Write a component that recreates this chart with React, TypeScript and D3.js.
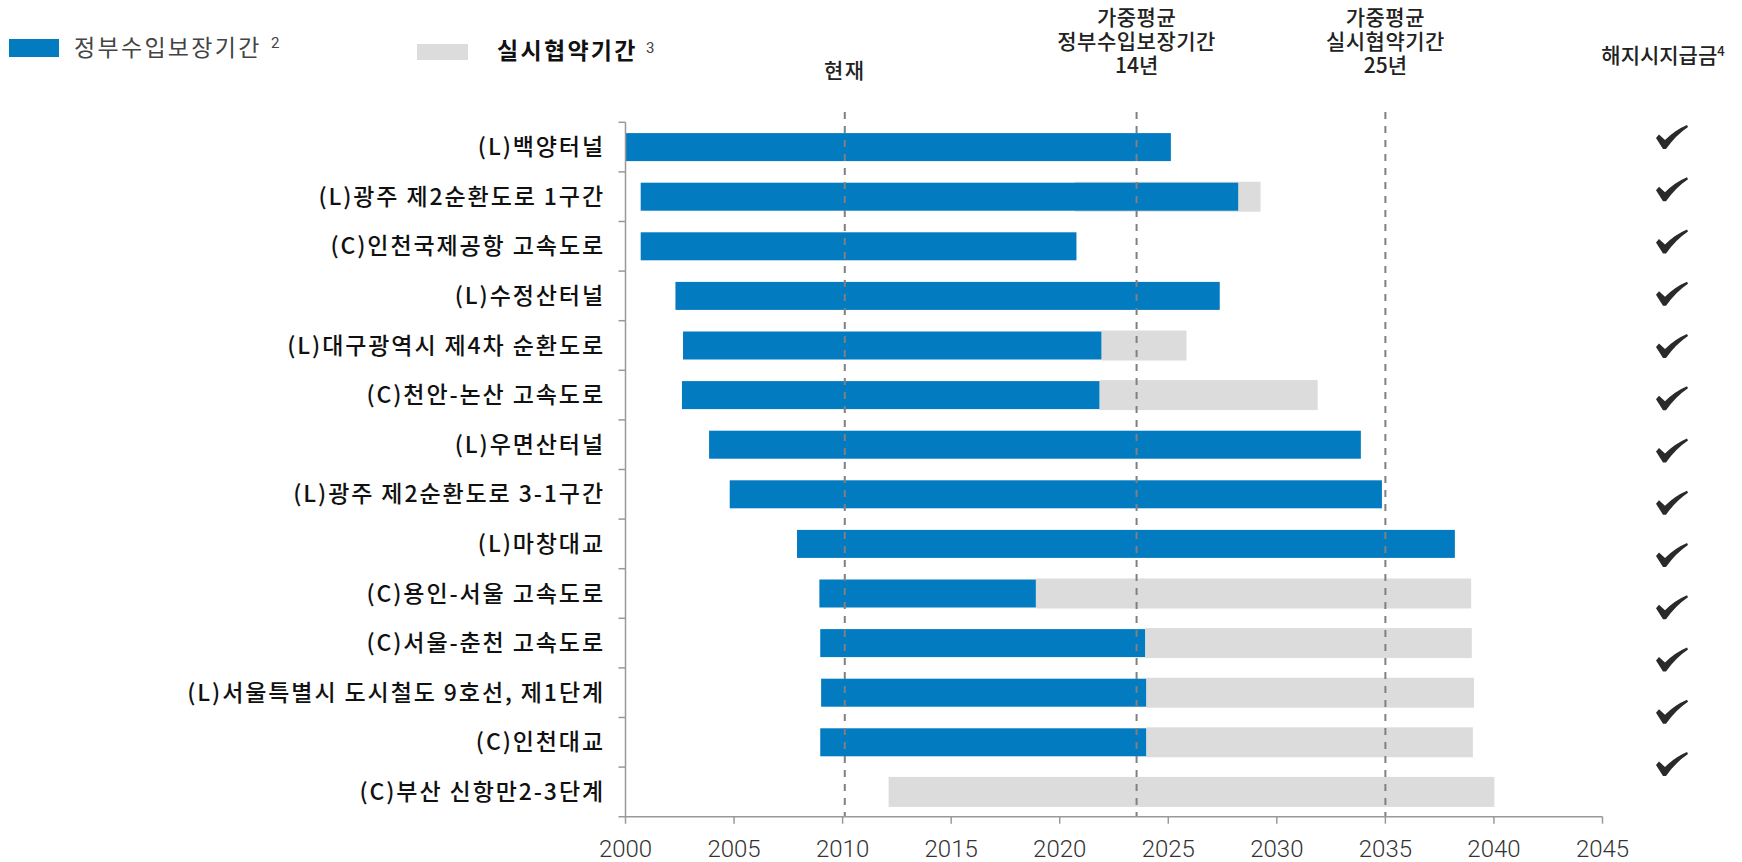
import React from "react";
import * as d3 from "d3";

const categories = [
  "(L)백양터널",
  "(L)광주 제2순환도로 1구간",
  "(C)인천국제공항 고속도로",
  "(L)수정산터널",
  "(L)대구광역시 제4차 순환도로",
  "(C)천안-논산 고속도로",
  "(L)우면산터널",
  "(L)광주 제2순환도로 3-1구간",
  "(L)마창대교",
  "(C)용인-서울 고속도로",
  "(C)서울-춘천 고속도로",
  "(L)서울특별시 도시철도 9호선, 제1단계",
  "(C)인천대교",
  "(C)부산 신항만2-3단계",
];

const govStart = [2000.0, 2000.7, 2000.7, 2002.3, 2002.65, 2002.6, 2003.85, 2004.8, 2007.9, 2008.93, 2008.97, 2009.01, 2008.97, null];
const govEnd = [2025.12, 2028.22, 2020.77, 2027.37, 2021.92, 2021.83, 2033.87, 2034.84, 2038.2, 2018.9, 2023.93, 2023.98, 2023.98, null];
const contractStart = [null, 2020.68, null, null, 2021.92, 2021.83, null, null, null, 2018.9, 2023.93, 2023.98, 2023.98, 2012.12];
const contractEnd = [null, 2029.25, null, null, 2025.84, 2031.88, null, null, null, 2038.95, 2038.98, 2039.08, 2039.03, 2040.02];

const xTicks = [2000, 2005, 2010, 2015, 2020, 2025, 2030, 2035, 2040, 2045];
const refLines = [2010.1, 2023.54, 2035.0];
const checkCount = 13;

const BLUE = "#027BC0";
const GRAY = "#DCDCDC";
const KR = "'Noto Sans CJK KR', 'Noto Sans', sans-serif";

function Check({ cx, cy }: { cx: number; cy: number }) {
  const p = d3.path();
  p.moveTo(cx - 15, cy + 1);
  p.lineTo(cx - 12, cy - 2.5);
  p.lineTo(cx - 6, cy + 3);
  p.quadraticCurveTo(cx + 4, cy - 7, cx + 16, cy - 12);
  p.lineTo(cx + 17, cy - 10);
  p.quadraticCurveTo(cx + 5, cy - 2, cx - 5, cy + 12);
  p.lineTo(cx - 8, cy + 12);
  p.closePath();
  return <path d={p.toString()} fill="#2a2a2a" />;
}

export default function App() {
  const W = 1742;
  const H = 862;
  const x = d3.scaleLinear().domain([2000, 2045]).range([625.5, 1602.5]);
  const y = d3.scaleBand().domain(categories).range([122.3, 816.7]).padding(0);
  const step = y.step();
  const barH = 28;
  const axisX = x(2000);
  const axisY = 816.7;
  const checkY = d3.scaleLinear().domain([0, checkCount - 1]).range([137, 764]);

  return (
    <svg
      width={W}
      height={H}
      style={{ position: "absolute", left: 0, top: 0, background: "#fff" }}
    >
      {/* Legend */}
      <rect x={9} y={39} width={50} height={18} fill={BLUE} />
      <text x={74} y={56} fontFamily={KR} fontSize={23} letterSpacing={2.3} fill="#444">
        정부수입보장기간
      </text>
      <text x={271} y={48} fontFamily="Roboto, sans-serif" fontSize={15} fill="#444">
        2
      </text>
      <rect x={417} y={44} width={51} height={16} fill={GRAY} />
      <text x={497} y={59} fontFamily={KR} fontSize={23} fontWeight={700} letterSpacing={2.3} fill="#111">
        실시협약기간
      </text>
      <text x={646} y={53} fontFamily="Roboto, sans-serif" fontSize={15} fill="#444">
        3
      </text>

      {/* Header annotations */}
      <g fontFamily={KR} fontSize={21} fontWeight={500} fill="#222" textAnchor="middle">
        <text x={x(refLines[0])} y={78} letterSpacing={1.5}>현재</text>
        <text x={x(refLines[1])} y={25} letterSpacing={0.5}>가중평균</text>
        <text x={x(refLines[1])} y={49} letterSpacing={0.5}>정부수입보장기간</text>
        <text x={x(refLines[1])} y={73}>14년</text>
        <text x={x(refLines[2])} y={25} letterSpacing={0.5}>가중평균</text>
        <text x={x(refLines[2])} y={49} letterSpacing={0.5}>실시협약기간</text>
        <text x={x(refLines[2])} y={73}>25년</text>
        <text x={1663} y={63}>
          해지시지급금<tspan fontSize={13} dy={-7}>4</tspan>
        </text>
      </g>

      {/* Bars */}
      {categories.map((c, i) => {
        const cy = (y(c) as number) + step / 2;
        const cs = contractStart[i];
        const ce = contractEnd[i];
        const gs = govStart[i];
        const ge = govEnd[i];
        return (
          <g key={c}>
            {cs != null && ce != null && (
              <rect x={x(cs)} y={cy - barH / 2 - 1} width={x(ce) - x(cs)} height={barH + 2} fill={GRAY} />
            )}
            {gs != null && ge != null && (
              <rect x={x(gs)} y={cy - barH / 2} width={x(ge) - x(gs)} height={barH} fill={BLUE} />
            )}
          </g>
        );
      })}

      {/* Reference dashed lines */}
      {refLines.map((v) => (
        <line
          key={v}
          x1={x(v)}
          x2={x(v)}
          y1={112}
          y2={axisY}
          stroke="#808080"
          strokeWidth={2}
          strokeDasharray="7 7"
        />
      ))}

      {/* Left axis */}
      <line x1={axisX} x2={axisX} y1={122.3} y2={axisY} stroke="#999" strokeWidth={1.5} />
      {categories.map((c) => (
        <line key={"t" + c} x1={axisX - 7} x2={axisX} y1={y(c) as number} y2={y(c) as number} stroke="#999" strokeWidth={1.5} />
      ))}
      {categories.map((c) => (
        <text
          key={"l" + c}
          x={605}
          y={(y(c) as number) + step / 2}
          dy="0.35em"
          textAnchor="end"
          fontFamily={KR}
          fontSize={23}
          fontWeight={500}
          letterSpacing={1.9}
          fill="#111"
        >
          {c}
        </text>
      ))}

      {/* Bottom axis */}
      <line x1={axisX - 7} x2={x(2045)} y1={axisY} y2={axisY} stroke="#999" strokeWidth={1.5} />
      {xTicks.map((t) => (
        <g key={t}>
          <line x1={x(t)} x2={x(t)} y1={axisY} y2={axisY + 7} stroke="#999" strokeWidth={1.5} />
          <text
            x={x(t)}
            y={857}
            textAnchor="middle"
            fontFamily="Roboto, 'Liberation Sans', sans-serif"
            fontWeight={300}
            fontSize={24}
            fill="#333"
          >
            {t}
          </text>
        </g>
      ))}

      {/* Check marks */}
      {d3.range(checkCount).map((i) => (
        <Check key={i} cx={1671} cy={checkY(i)} />
      ))}
    </svg>
  );
}
